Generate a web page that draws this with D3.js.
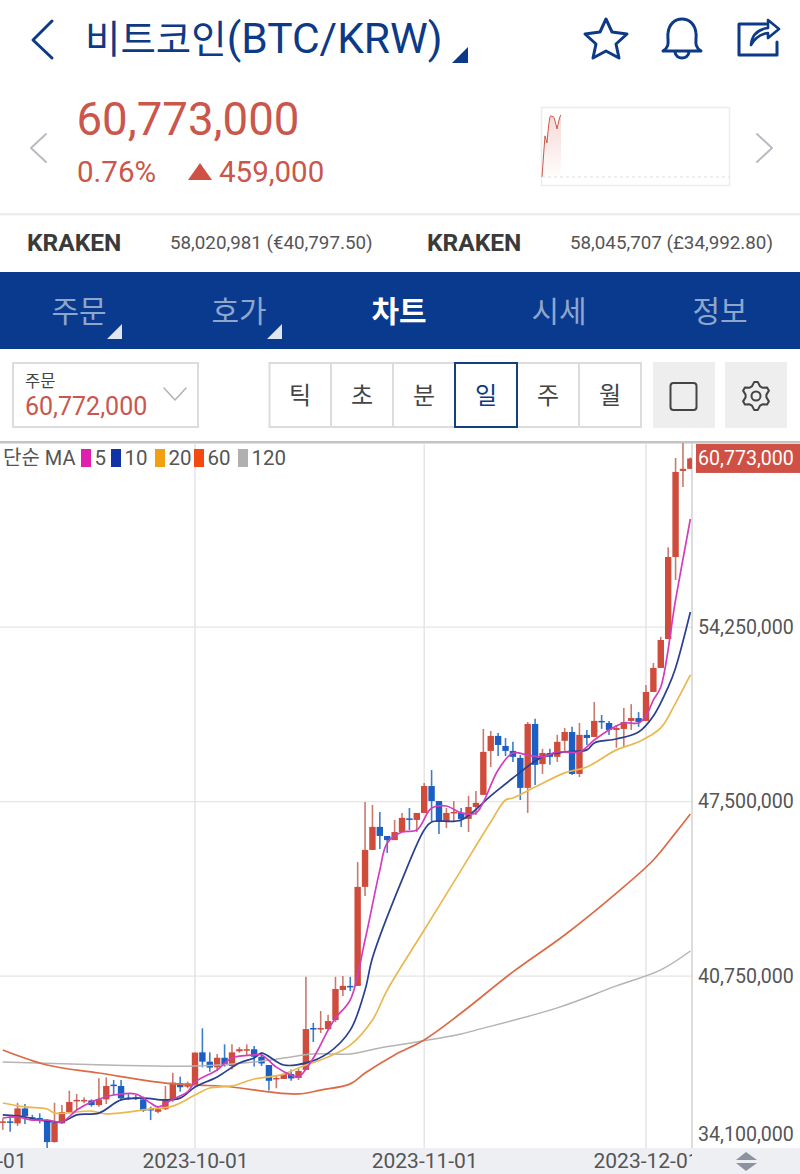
<!DOCTYPE html>
<html lang="ko"><head><meta charset="utf-8">
<script src="https://cdn.jsdelivr.net/npm/d3@7/dist/d3.min.js"></script>
<style>
html,body{margin:0;padding:0;background:#fff;overflow:hidden}
svg{display:block}
text{font-family:Roboto,"Noto Sans CJK KR",sans-serif}
</style></head><body><svg id="c" width="800" height="1174"></svg>
<script>
// ---------- data (millions of KRW, daily candles from 2023-09-05) ----------
const firstDay = "2023-09-05";
const openP = [35.08,35.13,35.05,35.63,35.29,35.26,35.18,34.33,35.05,35.49,35.91,35.91,35.94,35.76,35.98,36.55,36.50,36.05,36.06,35.98,35.61,35.50,35.60,35.98,36.60,36.47,
 36.54,37.80,37.44,37.22,37.59,37.27,37.84,37.87,37.92,37.63,37.31,36.76,36.77,36.96,36.81,37.12,38.74,38.70,38.70,39.05,40.21,40.37,40.37,44.20,45.63,46.52,46.17,46.01,46.32,46.85,46.79,47.06,48.10,47.52,46.71,47.06,47.06,46.83,47.29,
 47.76,49.46,50.04,49.65,49.46,49.19,48.03,50.50,48.95,49.38,49.23,49.85,50.19,48.57,50.08,50.00,50.62,50.54,50.27,50.31,50.62,50.73,50.62,51.74,52.67,53.79,56.96,60.29,60.37];
const highP = [35.25,35.31,35.85,35.80,35.38,35.44,35.21,35.85,35.76,36.32,36.19,36.06,35.98,36.80,36.83,36.73,36.73,36.22,36.15,36.09,35.70,35.72,36.50,37.01,36.86,36.67,
 37.79,38.73,37.80,37.74,38.11,38.11,38.00,38.11,38.05,37.79,37.31,36.92,36.96,37.14,37.18,40.72,38.94,39.40,39.25,40.72,40.75,40.72,45.16,47.48,47.37,47.10,46.17,46.79,47.06,47.25,47.06,48.22,48.72,47.52,47.25,47.52,47.25,47.72,47.91,
 50.31,50.23,50.15,49.96,49.81,49.30,50.58,50.70,49.54,49.54,50.08,50.35,50.39,50.54,50.27,51.35,50.85,50.62,50.46,51.12,51.27,50.96,52.01,52.86,53.87,57.34,60.79,61.37,60.81];
const lowP = [34.80,34.73,34.95,35.03,35.16,35.05,34.09,34.31,35.03,35.44,35.57,35.83,35.70,35.70,35.80,36.15,35.96,35.96,35.96,35.50,35.18,35.44,35.57,35.89,36.28,36.41,
 36.54,37.22,37.05,37.08,37.25,37.14,37.79,37.70,37.25,37.27,36.32,36.41,36.77,36.70,36.73,37.12,38.20,38.55,38.66,38.97,39.98,40.17,40.37,43.85,45.63,45.67,45.51,46.01,46.32,46.40,46.32,47.06,46.75,46.25,46.48,46.71,46.52,46.32,46.98,
 47.76,48.84,49.26,49.26,49.03,47.56,47.06,48.14,48.57,48.92,49.03,49.42,48.53,48.45,49.69,50.00,50.31,50.08,49.58,49.61,50.27,50.39,50.62,51.74,52.67,53.79,56.07,59.67,60.37];
const closeP = [35.13,35.09,35.63,35.34,35.23,35.23,34.33,35.08,35.49,35.88,35.96,35.96,35.76,35.98,36.50,36.52,36.02,36.01,36.02,35.54,35.57,35.60,35.96,36.63,36.45,36.60,
 37.79,37.44,37.21,37.59,37.30,37.80,37.92,37.92,37.63,37.37,36.70,36.81,36.96,36.79,37.08,38.70,38.70,38.74,39.01,40.25,40.37,40.33,44.20,45.63,46.52,46.17,46.01,46.32,46.87,46.79,47.06,48.10,47.52,46.71,47.06,47.10,46.83,47.29,47.45,
 49.42,50.04,49.69,49.46,49.23,48.03,50.50,48.92,49.38,49.23,49.81,50.19,48.57,50.08,49.96,50.62,50.58,50.27,50.35,50.58,50.73,50.58,51.74,52.67,53.75,56.96,60.25,60.37,60.773];

// moving averages: day offset from firstDay, value
const ma5Day  = [0,2,4,6,8,10,12,15,18,20,21,23,25,26,29,31,34,35,37,39,40,42,44,45,47,49,51,52,54,56,58,60,62,64,65,67,69,71,73,75,78,80,82,84,86,87,88,89,91,93];
const ma5Val  = [35.26,35.30,35.18,35.18,35.11,35.57,35.88,36.15,36.19,35.84,35.69,35.99,36.27,36.65,37.12,37.58,37.70,37.70,37.23,36.92,36.85,37.58,38.66,39.13,39.83,42.15,44.85,45.90,46.32,46.40,47.25,47.33,47.06,47.06,47.48,48.72,49.38,49.30,49.23,49.42,49.42,49.88,50.27,50.54,50.54,50.81,51.43,51.93,55.30,58.43];
const ma10Day = [0,3,5,8,10,13,16,19,22,24,26,29,32,34,35,38,41,44,47,49,50,54,57,58,62,66,69,73,76,79,80,83,86,88,90,91,93];
const ma10Val = [35.38,35.30,35.18,35.11,35.38,35.45,35.96,36.03,35.96,36.03,36.46,36.85,37.39,37.58,37.77,37.31,37.39,37.77,38.66,40.21,41.45,44.47,46.40,46.71,46.79,47.72,48.41,49.23,49.42,49.50,49.77,49.92,50.19,50.81,51.93,52.67,54.83];
const ma20Day = [0,3,6,7,12,14,20,23,26,28,31,34,36,38,41,44,47,50,52,57,62,66,68,69,72,76,79,83,86,89,91,93];
const ma20Val = [35.84,35.69,35.61,35.45,35.53,35.42,35.61,35.72,36.15,36.42,36.50,36.77,36.85,36.96,37.31,37.62,38.08,39.05,40.21,42.53,44.85,46.71,47.56,47.64,48.06,48.61,48.84,49.50,49.81,50.35,51.31,52.40];
const ma60Day = [0,6,13,22,26,31,36,40,43,47,49,53,57,62,69,76,83,88,91,93];
const ma60Val = [37.89,37.31,37.00,36.61,36.54,36.46,36.27,36.19,36.34,36.58,37.00,37.70,38.28,39.32,40.91,42.34,43.96,45.24,46.29,47.02];
const ma120Day = [0,14,26,34,38,42,47,51,56,62,64,75,83,89,93];
const ma120Val = [37.43,37.31,37.27,37.43,37.58,37.74,37.74,37.97,38.20,38.51,38.66,39.52,40.37,40.99,41.72];

const yTickVals = [54.25,47.5,40.75,34.1];
const yTickLabels = ["54,250,000","47,500,000","40,750,000","34,100,000"];
const lastPrice = 60.773, lastPriceLabel = "60,773,000";
const xTickDates = ["2023-09-01","2023-10-01","2023-11-01","2023-12-01"];
const legendNames = ["5","10","20","60","120"];
const legendColors = ["#e01fb0","#1232a8","#f0a010","#f34a12","#b0b0b0"];
const maColors = ["#d23dbb","#2a3f8f","#e9b84e","#dc6a45","#b4b4b4"];
const tabs = ["주문","호가","차트","시세","정보"];
const periods = ["틱","초","분","일","주","월"];
const sparkDays = [0,1,2,3,4,5,6,7,8,9,10,11,12,13,14,15,16,17,18,19];
const sparkVals = [0,16,32,47,43,39,52,62,69,70,69,69,68,64,60,55,60,65,69,71];

// ---------- scales ----------
const parse = d3.utcParse("%Y-%m-%d");
const x = d3.scaleUtc().domain([parse("2023-09-01"),parse("2023-12-08")]).range([-26.8,697.75]);
const y = d3.scaleLinear().domain([34.1,61.37]).range([1148,443]);
const day0 = parse(firstDay);
const dayX = i => x(d3.utcDay.offset(day0,i));

const NAVY="#0d3a86", RED="#c9574b", CANDLE_RED="#cf4b3c", CANDLE_BLUE="#1b5fc4", WICK_RED="#c97a6c", WICK_BLUE="#3f7cc8";
const svg=d3.select("#c");
const ui=svg.append("g");

// ---------- chart frame ----------
const defs=svg.append("defs");
defs.append("clipPath").attr("id","plot").append("rect").attr("x",0).attr("y",443).attr("width",692).attr("height",705);
defs.append("clipPath").attr("id","xlab").append("rect").attr("x",0).attr("y",1148).attr("width",692).attr("height",26);
const grad=defs.append("linearGradient").attr("id","sparkFill").attr("x1",0).attr("y1",0).attr("x2",0).attr("y2",1);
grad.append("stop").attr("offset","0%").attr("stop-color","#f5d9d5");
grad.append("stop").attr("offset","100%").attr("stop-color","#ffffff");

const chart=svg.append("g");
chart.append("rect").attr("x",0).attr("y",1148).attr("width",800).attr("height",26).attr("fill","#edeff3");
chart.append("rect").attr("x",0).attr("y",441).attr("width",800).attr("height",2.5).attr("fill","#c4c4c4");

const grid=chart.append("g").attr("clip-path","url(#plot)");
grid.selectAll(".h").data(yTickVals.slice(0,3)).join("line")
  .attr("x1",0).attr("x2",692).attr("y1",d=>y(d)).attr("y2",d=>y(d)).attr("stroke","#e6e6e6").attr("stroke-width",1.2);
grid.selectAll(".v").data(xTickDates.slice(1)).join("line")
  .attr("y1",443).attr("y2",1148).attr("x1",d=>x(parse(d))).attr("x2",d=>x(parse(d))).attr("stroke","#e3e3e3").attr("stroke-width",1.4);
chart.append("line").attr("x1",692).attr("x2",692).attr("y1",443).attr("y2",1148).attr("stroke","#cfcfcf").attr("stroke-width",1.4);

// x axis labels
const xAxis=d3.axisBottom(x).tickValues(xTickDates.map(parse)).tickFormat(d3.utcFormat("%Y-%m-%d")).tickSize(0);
const xg=chart.append("g").attr("clip-path","url(#xlab)").append("g").attr("transform","translate(0,1148)").call(xAxis);
xg.select(".domain").remove();
xg.selectAll("text").attr("y",0).attr("dy","20").attr("font-size",21).attr("fill","#555").style("font-family","Roboto");

// y axis labels
const yAxis=d3.axisRight(y).tickValues(yTickVals).tickFormat((d,i)=>yTickLabels[i]).tickSize(0);
const yg=chart.append("g").attr("transform","translate(692,0)").call(yAxis);
yg.select(".domain").remove();
yg.selectAll("text").attr("x",6).attr("y",0).attr("font-size",19.6).attr("fill","#555").style("font-family","Roboto")
  .attr("dy",(d)=>d===34.1?"-8":"6");

// price tag
chart.append("rect").attr("x",696).attr("y",y(lastPrice)-14.5).attr("width",104).attr("height",29).attr("fill","#cf5146");
chart.append("text").attr("x",698).attr("y",y(lastPrice)+6.5).attr("font-size",19.6).attr("fill","#fff").text(lastPriceLabel);

// ---------- candles ----------
const candles=d3.range(openP.length).map(i=>({i,o:openP[i],h:highP[i],l:lowP[i],c:closeP[i]}));
const plot=chart.append("g").attr("clip-path","url(#plot)");
plot.selectAll(".w").data(candles).join("line")
  .attr("x1",d=>dayX(d.i)).attr("x2",d=>dayX(d.i)).attr("y1",d=>y(d.h)).attr("y2",d=>y(d.l))
  .attr("stroke",d=>d.c>=d.o?WICK_RED:WICK_BLUE).attr("stroke-width",1.6);
plot.selectAll(".b").data(candles).join("rect")
  .attr("x",d=>dayX(d.i)-3.2).attr("width",6.4)
  .attr("y",d=>y(Math.max(d.o,d.c))).attr("height",d=>Math.max(1.5,Math.abs(y(d.o)-y(d.c))))
  .attr("fill",d=>d.c>=d.o?CANDLE_RED:CANDLE_BLUE);

// ---------- moving averages ----------
const line=d3.line().x(d=>dayX(d[0])).y(d=>y(d[1])).curve(d3.curveCatmullRom.alpha(0.5));
const maSeries=[
 [ma120Day,ma120Val,1.5],[ma60Day,ma60Val,1.7],[ma20Day,ma20Val,1.7],
 [ma10Day,ma10Val,1.7],[ma5Day,ma5Val,1.7]];
const maCol=[maColors[4],maColors[3],maColors[2],maColors[1],maColors[0]];
plot.selectAll(".ma").data(maSeries).join("path")
  .attr("d",s=>line(s[0].map((d,i)=>[d,s[1][i]])))
  .attr("fill","none").attr("stroke",(s,i)=>maCol[i]).attr("stroke-width",s=>s[2]);

// ---------- legend ----------
const lg=chart.append("g");
lg.append("text").attr("x",3).attr("y",465).attr("font-size",20).attr("fill","#555").text("단순 MA");
const lgX=[81,111,155,194,238];
legendNames.forEach((n,i)=>{
  lg.append("rect").attr("x",lgX[i]).attr("y",449).attr("width",10).attr("height",18).attr("fill",legendColors[i]);
  lg.append("text").attr("x",lgX[i]+13.5).attr("y",465).attr("font-size",20.5).attr("fill","#555").text(n);
});

// scroll arrows
chart.append("path").attr("d","M736,1160 L746,1152 L757,1160 Z M736,1163 L757,1163 L746,1171 Z").attr("fill","#8c93a0");

// ---------- header ----------
const stroke=(g,d,col,w)=>g.append("path").attr("d",d).attr("fill","none").attr("stroke",col).attr("stroke-width",w).attr("stroke-linecap","round").attr("stroke-linejoin","round");
stroke(ui,"M52,21 L33,40 L52,58",NAVY,3);
const title=ui.append("text").attr("x",85).attr("y",53).attr("font-size",38.5).attr("fill",NAVY);
title.append("tspan").text("비트코인");
title.append("tspan").attr("font-size",42.5).text("(BTC/KRW)");
ui.append("path").attr("d","M452,63 L468,47 L468,63 Z").attr("fill",NAVY);
stroke(ui,"M606,19 L612,32 L627,34 L616,44 L619,58 L606,51 L593,58 L596,44 L585,34 L600,32 Z",NAVY,3);
stroke(ui,"M663,51 C671,46 667,40 668,33 C669,24 675,19 682,19 C689,19 695,24 696,33 C697,40 693,46 701,51 Z M675,52 C676,60 688,60 689,52",NAVY,3);
stroke(ui,"M766,24 L739,24 L739,55 L777,55 L777,42",NAVY,3);
stroke(ui,"M751,45 C752,33 760,29 768,28 L768,20 L779,29 L768,38 L768,33 C761,34 755,38 751,45 Z",NAVY,2.6);

ui.append("text").attr("x",76.5).attr("y",135).attr("font-size",45.6).attr("fill",RED).text("60,773,000");
ui.append("text").attr("x",77).attr("y",182).attr("font-size",29.5).attr("fill",RED).text("0.76%");
ui.append("path").attr("d","M188,180 L200,163 L212,180 Z").attr("fill","#cf5146");
ui.append("text").attr("x",219).attr("y",182).attr("font-size",29.5).attr("fill",RED).text("459,000");
stroke(ui,"M46,134 L31,148 L46,162","#b8bcc2",2);
stroke(ui,"M757,134 L772,148 L757,162","#b8bcc2",2);

// sparkline
ui.append("rect").attr("x",541.5).attr("y",107.5).attr("width",188).attr("height",78).attr("fill","#fff").attr("stroke","#ececec").attr("stroke-width",1.5);
const sx=d3.scaleLinear().domain([0,19]).range([542,561]);
const sy=d3.scaleLinear().domain([0,72]).range([177,114]);
const sPts=sparkDays.map((d,i)=>[d,sparkVals[i]]);
ui.append("path").attr("d",d3.area().x(d=>sx(d[0])).y0(180).y1(d=>sy(d[1]))(sPts)).attr("fill","url(#sparkFill)");
ui.append("path").attr("d",d3.line().x(d=>sx(d[0])).y(d=>sy(d[1]))(sPts)).attr("fill","none").attr("stroke","#c9574b").attr("stroke-width",1);
ui.append("line").attr("x1",542).attr("x2",729).attr("y1",177).attr("y2",177).attr("stroke","#ddd").attr("stroke-dasharray","3 3");

ui.append("rect").attr("x",0).attr("y",213).attr("width",800).attr("height",2.5).attr("fill","#eeeeee");

// kraken row
[[27,170,"58,020,981 (€40,797.50)"],[427,570,"58,045,707 (£34,992.80)"]].forEach(r=>{
  ui.append("text").attr("x",r[0]).attr("y",251).attr("font-size",24.5).attr("font-weight",700).attr("fill","#3a3a3a").text("KRAKEN");
  ui.append("text").attr("x",r[1]).attr("y",249).attr("font-size",18.8).attr("fill","#555").text(r[2]);
});

// nav
ui.append("rect").attr("x",0).attr("y",272).attr("width",800).attr("height",77).attr("fill","#0a3a8e");
const tabX=[79,239,399,559,720];
tabs.forEach((t,i)=>{
  ui.append("text").attr("x",tabX[i]).attr("y",322).attr("text-anchor","middle").attr("font-size",30)
    .attr("font-weight",i===2?700:400).attr("fill",i===2?"#fff":"#8fa6cc").text(t);
});
ui.append("path").attr("d","M107,339 L122,324 L122,339 Z M267,339 L282,324 L282,339 Z").attr("fill","#dfe6f2");

// controls
ui.append("rect").attr("x",13).attr("y",363).attr("width",185).attr("height",64).attr("fill","#fff").attr("stroke","#dcdcdc").attr("stroke-width",2);
ui.append("text").attr("x",25).attr("y",387).attr("font-size",16.5).attr("fill","#444").text("주문");
ui.append("text").attr("x",25).attr("y",415).attr("font-size",25).attr("fill",RED).text("60,772,000");
stroke(ui,"M164,388 L175,400 L186,388","#b4b4b4",1.6);

ui.append("rect").attr("x",269.5).attr("y",363).attr("width",371.5).attr("height",64).attr("fill","#fff").attr("stroke","#dcdcdc").attr("stroke-width",2);
const btnX=d3.scaleLinear().domain([0,6]).range([269,641]);
periods.forEach((p,i)=>{
  if(i>0) ui.append("line").attr("x1",btnX(i)).attr("x2",btnX(i)).attr("y1",363).attr("y2",427).attr("stroke","#dcdcdc").attr("stroke-width",2);
  ui.append("text").attr("x",btnX(i)+31).attr("y",404).attr("text-anchor","middle").attr("font-size",24).attr("fill",i===3?NAVY:"#444").text(p);
});
ui.append("rect").attr("x",btnX(3)).attr("y",363).attr("width",62).attr("height",64).attr("fill","none").attr("stroke","#14407e").attr("stroke-width",2);
ui.append("rect").attr("x",653).attr("y",362).attr("width",62).attr("height",66).attr("fill","#eeeeee");
ui.append("rect").attr("x",725).attr("y",362).attr("width",62).attr("height",66).attr("fill","#eeeeee");
ui.append("rect").attr("x",670.5).attr("y",383).attr("width",26).attr("height",27).attr("rx",3).attr("fill","none").attr("stroke","#444").attr("stroke-width",2);
const gear=ui.append("g").attr("transform","translate(756,396)");
const gearPts=d3.range(24).map(i=>{const a=i/24*2*Math.PI+Math.PI/2-Math.PI/24,r=(i%4<2)?14:10.5;return [r*Math.cos(a),r*Math.sin(a)];});
gear.append("path").attr("d",d3.line().curve(d3.curveLinearClosed)(gearPts)).attr("fill","none").attr("stroke","#444").attr("stroke-width",2).attr("stroke-linejoin","round");
gear.append("circle").attr("r",4.5).attr("fill","none").attr("stroke","#444").attr("stroke-width",2);
</script></body></html>
